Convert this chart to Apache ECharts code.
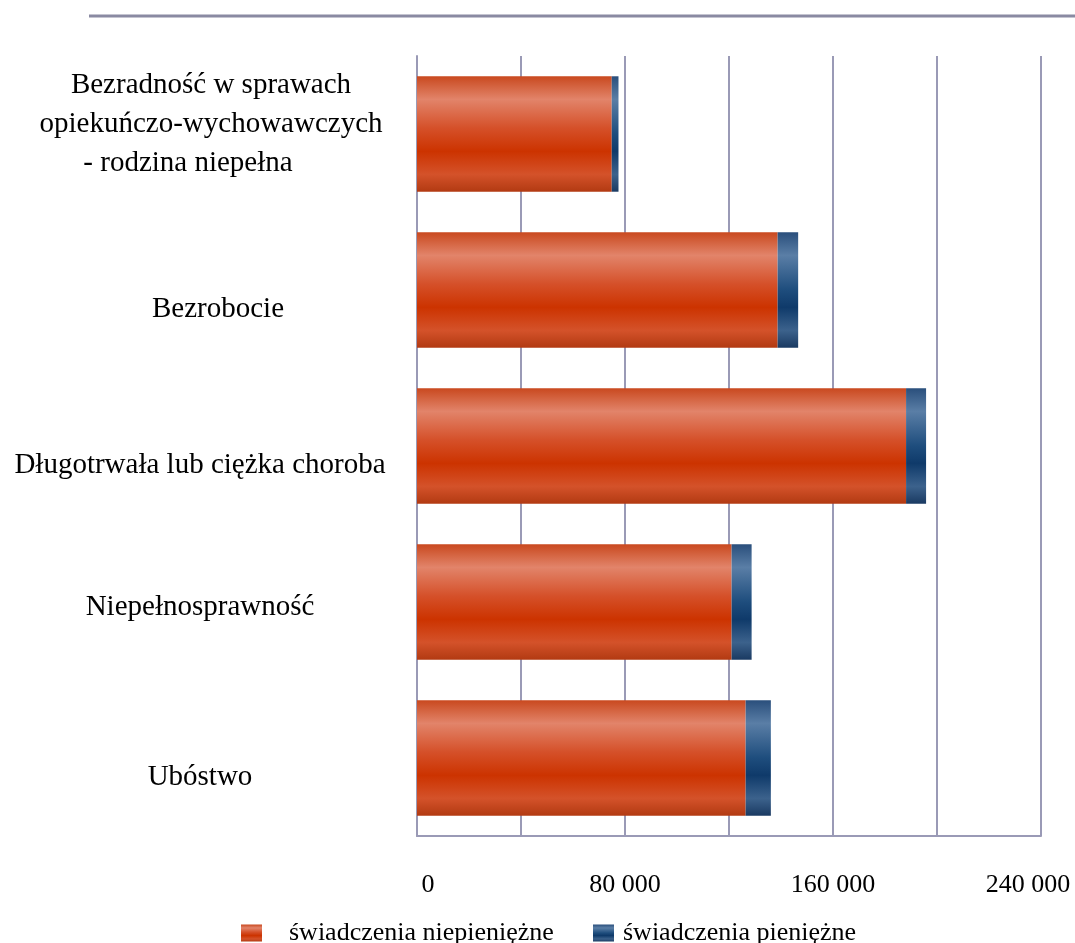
<!DOCTYPE html>
<html>
<head>
<meta charset="utf-8">
<script src="https://cdn.jsdelivr.net/npm/echarts@6/dist/echarts.min.js"></script>
<style>html,body{margin:0;padding:0;background:#fff}#c{width:1075px;height:943px}</style>
</head>
<body>
<div id="c"></div>
<script>
const categories = [
  'Bezradność w sprawach\nopiekuńczo-wychowawczych\n- rodzina niepełna',
  'Bezrobocie',
  'Długotrwała lub ciężka choroba',
  'Niepełnosprawność',
  'Ubóstwo'
];
const seriesNames = ['świadczenia niepieniężne', 'świadczenia pieniężne'];
const nonCash = [74900, 138700, 188100, 121000, 126400];
const cash = [2600, 7900, 7700, 7700, 9700];
const tickLabels = ['0', '80 000', '160 000', '240 000'];

const serif = '"Liberation Serif", "Times New Roman", serif';
const orangeGrad = new echarts.graphic.LinearGradient(0, 0, 0, 1, [
  {offset: 0, color: '#c9491f'},
  {offset: 0.2, color: '#e2846a'},
  {offset: 0.45, color: '#d55029'},
  {offset: 0.65, color: '#cc3300'},
  {offset: 0.85, color: '#d4522a'},
  {offset: 1, color: '#b23a12'}
]);
const blueGrad = new echarts.graphic.LinearGradient(0, 0, 0, 1, [
  {offset: 0, color: '#2a4f7c'},
  {offset: 0.2, color: '#5a7ea6'},
  {offset: 0.5, color: '#1e4d7d'},
  {offset: 0.65, color: '#0f3a6a'},
  {offset: 0.85, color: '#3c628c'},
  {offset: 1, color: '#1a3a62'}
]);
const txt = {fontFamily: serif, fontSize: 29, color: '#000', lineHeight: 39};
// spacer lines (layout only) to nudge labels like the original
function yLabel(v, i) {
  const lines = v.split('\n');
  if (i === 0) {
    return lines.map((l, k) => '{' + (k === 2 ? 'l' : 'r') + '|' + l + '}').join('\n') + '\n{up| }';
  }
  const sp = i === 3 ? 'sm' : 'dn';
  const st = i === 1 ? 'b' : 'n';
  return '{' + sp + '| }\n{' + st + '|' + v + '}';
}
function xLabel(v) {
  if (v % 80000 !== 0) return '';
  const k = v / 80000;
  const st = k === 0 ? 'first' : (k === 3 ? 'last' : 'n');
  return '{' + st + '|' + tickLabels[k] + '}';
}
const xTxt = {fontFamily: serif, fontSize: 26, color: '#000'};

const chart = echarts.init(document.getElementById('c'));
chart.setOption({
  animation: false,
  backgroundColor: '#fff',
  graphic: [{
    type: 'line', shape: {x1: 89, y1: 16, x2: 1075, y2: 16},
    style: {stroke: '#8a8aa2', lineWidth: 3}
  }],
  grid: {left: 417, right: 34, top: 56, bottom: 107, containLabel: false, outerBoundsMode: 'none'},
  legend: [{
    data: [seriesNames[0]], left: 236, bottom: -8, icon: 'rect', itemWidth: 21, itemHeight: 17,
    textStyle: {fontFamily: serif, fontSize: 26, color: '#000', padding: [0, 0, 0, 22]}
  }, {
    data: [seriesNames[1]], left: 588, bottom: -8, icon: 'rect', itemWidth: 21, itemHeight: 17,
    textStyle: {fontFamily: serif, fontSize: 26, color: '#000', padding: [0, 0, 0, 4]}
  }],
  xAxis: {
    type: 'value', min: 0, max: 240000, interval: 40000,
    axisLine: {show: true, lineStyle: {color: '#9a9ab6', width: 2}},
    axisTick: {show: false},
    splitLine: {show: true, lineStyle: {color: '#9a9ab6', width: 2}},
    axisLabel: {
      margin: 36, fontFamily: serif, fontSize: 26, color: '#000',
      formatter: xLabel,
      rich: {
        n: xTxt,
        first: Object.assign({padding: [0, 0, 0, 22]}, xTxt),
        last: Object.assign({padding: [0, 26, 0, 0]}, xTxt)
      }
    }
  },
  yAxis: {
    type: 'category', data: categories, inverse: true,
    axisLine: {show: true, lineStyle: {color: '#9a9ab6', width: 2}},
    axisTick: {show: false},
    axisLabel: {
      margin: 217, align: 'center', fontFamily: serif, fontSize: 29, color: '#000', lineHeight: 39,
      formatter: yLabel,
      rich: {
        n: txt,
        r: Object.assign({padding: [0, 0, 0, 22]}, txt),
        l: Object.assign({padding: [0, 24, 0, 0]}, txt),
        b: Object.assign({padding: [0, 0, 0, 36]}, txt),
        up: {fontSize: 4, lineHeight: 20},
        dn: {fontSize: 4, lineHeight: 38},
        sm: {fontSize: 4, lineHeight: 10}
      }
    }
  },
  series: [{
    name: seriesNames[0], type: 'bar', stack: 's', data: nonCash, barCategoryGap: '26%',
    itemStyle: {color: orangeGrad}
  }, {
    name: seriesNames[1], type: 'bar', stack: 's', data: cash, barCategoryGap: '26%',
    itemStyle: {color: blueGrad}
  }]
});
</script>
</body>
</html>
